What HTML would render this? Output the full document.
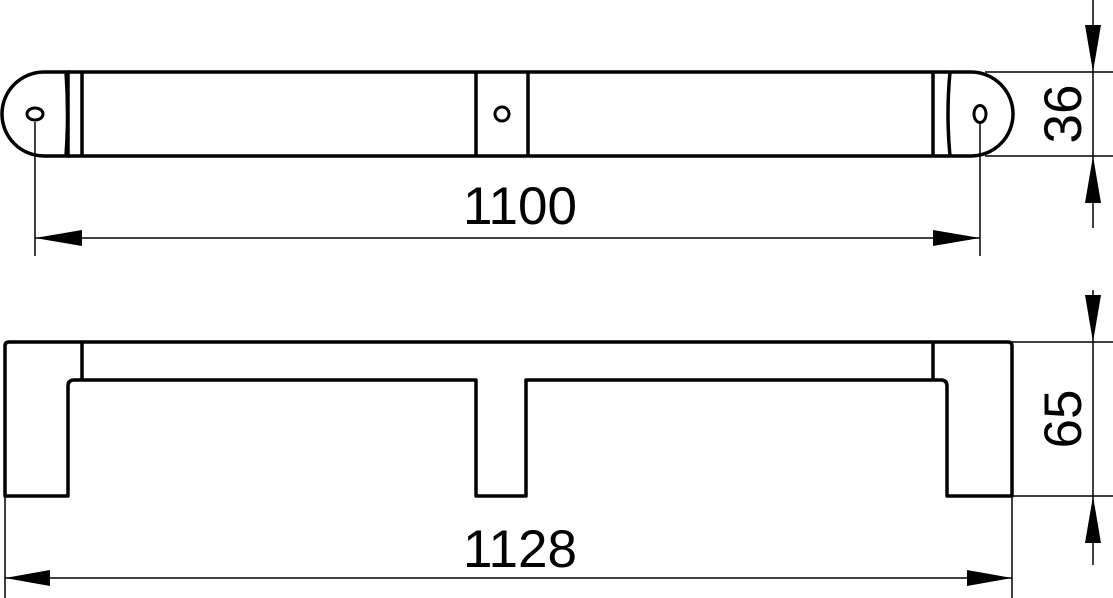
<!DOCTYPE html>
<html><head><style>html,body{margin:0;padding:0;background:#fff}svg{display:block}</style></head>
<body>
<svg width="1113" height="598" viewBox="0 0 1113 598" xmlns="http://www.w3.org/2000/svg">
<g fill="none" stroke="#000" stroke-width="3.5" stroke-linejoin="round">
  <!-- top view -->
  <path d="M70,72 L44,72 A42,42 0 0 0 44,156 L70,156"/>
  <path d="M66,72 Q69,114 66,156"/>
  <line x1="68" y1="72" x2="946" y2="72"/>
  <line x1="68" y1="156" x2="946" y2="156"/>
  <line x1="68" y1="72" x2="68" y2="156"/>
  <line x1="82" y1="72" x2="82" y2="156"/>
  <line x1="476" y1="72" x2="476" y2="156"/>
  <line x1="528" y1="72" x2="528" y2="156"/>
  <line x1="933" y1="72" x2="933" y2="156"/>
  <path d="M950,72 Q946,114 950,156"/>
  <path d="M945,72 L971,72 A42,42 0 0 1 971,156 L945,156"/>
  <ellipse cx="35" cy="114" rx="8" ry="6" stroke-width="3"/>
  <circle cx="502" cy="114" r="7" stroke-width="3"/>
  <ellipse cx="980" cy="114" rx="6" ry="8.5" stroke-width="3"/>
  <!-- bottom view -->
  <path d="M5,496 L5,346 Q5,342 9,342 L1008,342 Q1012,342 1012,346 L1012,496 L947,496 L947,386 Q947,380 941,380 L526,380 L526,496 L476,496 L476,380 L74,380 Q68,380 68,386 L68,496 Z"/>
  <line x1="82" y1="342" x2="82" y2="380"/>
  <line x1="933" y1="342" x2="933" y2="380"/>
</g>
<g stroke="#000" stroke-width="1.5" fill="none">
  <line x1="35" y1="122" x2="35" y2="256"/>
  <line x1="980" y1="123" x2="980" y2="256"/>
  <line x1="35" y1="238" x2="980" y2="238"/>
  <line x1="985" y1="72" x2="1113" y2="72"/>
  <line x1="985" y1="156" x2="1113" y2="156"/>
  <line x1="1093" y1="0" x2="1093" y2="228"/>
  <line x1="5" y1="496" x2="5" y2="598"/>
  <line x1="1012" y1="496" x2="1012" y2="598"/>
  <line x1="5" y1="578" x2="1012" y2="578"/>
  <line x1="1012" y1="342" x2="1113" y2="342"/>
  <line x1="1012" y1="496" x2="1113" y2="496"/>
  <line x1="1093" y1="290" x2="1093" y2="565"/>
</g>
<g fill="#000">
  <polygon points="35,238 82,230 82,246"/>
  <polygon points="980,238 933,230 933,246"/>
  <polygon points="5,578 50,570 50,586"/>
  <polygon points="1012,578 967,570 967,586"/>
  <polygon points="1093,72 1085,25 1101,25"/>
  <polygon points="1093,156 1085,203 1101,203"/>
  <polygon points="1093,342 1085,295 1101,295"/>
  <polygon points="1093,496 1085,543 1101,543"/>
</g>
<g font-family="Liberation Sans, sans-serif" font-size="53" fill="#000" text-anchor="middle">
  <text x="520" y="224">1100</text>
  <text x="520" y="567">1128</text>
  <text x="0" y="0" transform="translate(1081,114) rotate(-90)">36</text>
  <text x="0" y="0" transform="translate(1081,419) rotate(-90)">65</text>
</g>
</svg>
</body></html>
